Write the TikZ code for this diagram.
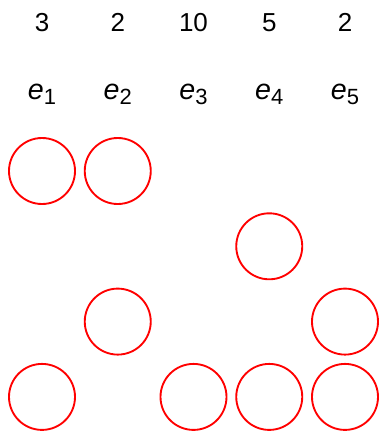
\documentclass[tikz,border=0pt]{standalone}
\usepackage{fontspec}
\setmainfont{Liberation Sans}
\usetikzlibrary{positioning}

\newcommand{\edgename}[1]{{\fontsize{21.5}{24}\selectfont\textit{e}}\raisebox{-4pt}{\fontsize{16.5}{18}\selectfont #1}}

\begin{document}
\begin{tikzpicture}[
        x=0.75pt, y=-0.75pt,
        ball/.style={draw=red, circle, line width=1.4pt, minimum size=49.5pt, inner sep=0pt},
        lbl/.style={anchor=base, inner sep=0pt, font=\fontsize{19.5}{22}\selectfont}
    ]
        \useasboundingbox (0,0) rectangle (379,433);

        % Weights and edge names
        \foreach \i/\w [evaluate=\i as \xx using 42+75.75*(\i-1)] in {1/3, 2/2, 3/10, 4/5, 5/2} {
            \node[lbl] (w\i) at (\xx,31) {\w};
            \node[lbl] (e\i) at (\xx,99.5) {\edgename{\i}};
        }

        % Balls
        \foreach \i/\r [evaluate=\i as \xx using 42+75.75*(\i-1),
                        evaluate=\r as \yy using 171+75.3*(\r-1)]
            in {1/1, 2/1, 4/2, 2/3, 5/3, 1/4, 3/4, 4/4, 5/4} {
            \node[ball] (b\i\r) at (\xx,\yy) {};
        }
    \end{tikzpicture}
\end{document}
